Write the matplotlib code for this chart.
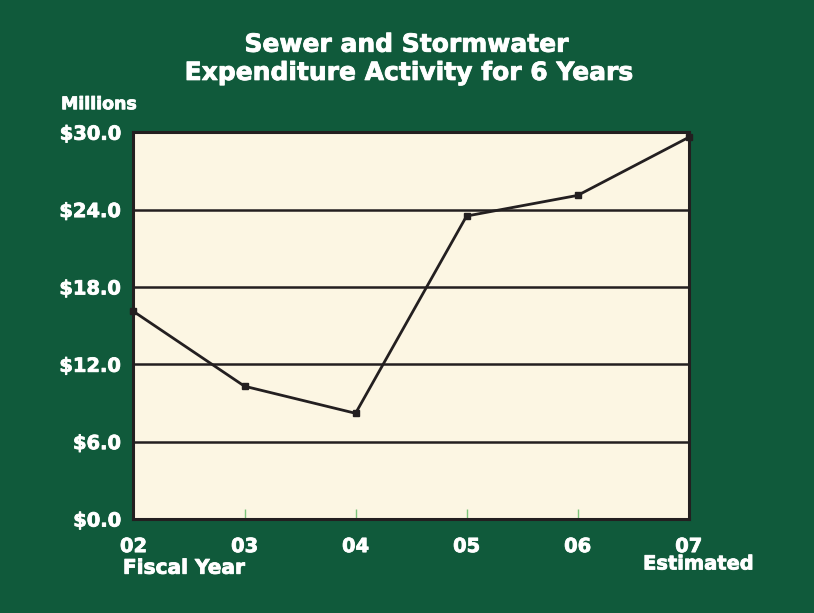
import matplotlib.pyplot as plt
import matplotlib.patheffects as pe

# data
years = ['02', '03', '04', '05', '06', '07']
spending = [16.1, 10.3, 8.2, 23.5, 25.1, 29.6]
yticks = [0, 6, 12, 18, 24, 30]
ytick_labels = ['$0.0', '$6.0', '$12.0', '$18.0', '$24.0', '$30.0']

green = '#105a3b'
cream = '#fcf6e3'
ink = '#231f20'

plt.rcParams['font.family'] = ['DejaVu Sans']
plt.rcParams['font.weight'] = 'bold'

fig = plt.figure(figsize=(8.14, 6.13), dpi=100, facecolor=green)
ax = fig.add_axes([0.164, 0.1533, 0.682, 0.631], facecolor=cream)

x = list(range(len(years)))
ax.plot(x, spending, color=ink, lw=2, marker='s', ms=5, mfc=ink, mec=ink,
        clip_on=False, zorder=3)

ax.set_xlim(0, 5)
ax.set_ylim(0, 30)
ax.set_yticks(yticks)
ax.set_yticklabels(ytick_labels)
ax.set_xticks(x)
ax.set_xticklabels(years)
ax.grid(axis='y', color=ink, lw=1.8)
ax.set_axisbelow(True)

heavy = [pe.withStroke(linewidth=0.6, foreground='white')]

ax.tick_params(axis='y', length=0, pad=9, labelsize=14, labelcolor='white')
ax.tick_params(axis='x', direction='in', length=7, width=1, color='#7cc47a',
               pad=13, labelsize=14, labelcolor='white')
for lab in ax.get_xticklabels() + ax.get_yticklabels():
    lab.set_path_effects(heavy)
for s in ax.spines.values():
    s.set_color(ink)
    s.set_linewidth(2.2)

fig.text(0.5, 0.927, 'Sewer and Stormwater', ha='center', va='center',
         color='white', fontsize=18, fontweight='bold', path_effects=heavy)
fig.text(0.503, 0.881, 'Expenditure Activity for 6 Years', ha='center', va='center',
         color='white', fontsize=18, fontweight='bold', path_effects=heavy)
fig.text(0.075, 0.830, 'Millions', ha='left', va='center',
         color='white', fontsize=12.5, fontweight='bold', path_effects=heavy)
fig.text(0.151, 0.073, 'Fiscal Year', ha='left', va='center',
         color='white', fontsize=14.5, fontweight='bold', path_effects=heavy)
fig.text(0.79, 0.08, 'Estimated', ha='left', va='center',
         color='white', fontsize=14, fontweight='bold', path_effects=heavy)

fig.savefig('out.png', dpi=100, facecolor=green)
